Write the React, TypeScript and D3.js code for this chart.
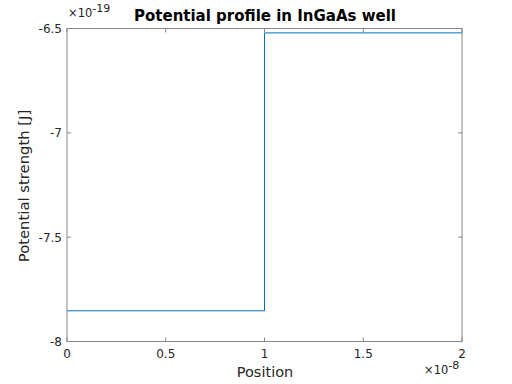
import React from "react";
import * as d3 from "d3";

const positions = [0, 1e-8, 1e-8, 2e-8];
const potentials = [-7.853e-19, -7.853e-19, -6.521e-19, -6.521e-19];
const xTicks = [0, 0.5e-8, 1e-8, 1.5e-8, 2e-8];
const xTickLabels = ["0", "0.5", "1", "1.5", "2"];
const yTicks = [-8e-19, -7.5e-19, -7e-19, -6.5e-19];
const yTickLabels = ["-8", "-7.5", "-7", "-6.5"];

export default function App() {
  const W = 512, H = 384;
  const L = 67, R = 462, T = 28.5, B = 341.5;
  const x = d3.scaleLinear().domain([0, 2e-8]).range([L, R]);
  const y = d3.scaleLinear().domain([-8e-19, -6.5e-19]).range([B, T]);
  const line = d3.line<number>().x((d, i) => x(positions[i])).y((d) => y(d));
  const axisColor = "#868686";
  const font = "DejaVu Sans, sans-serif";
  return (
    <svg width={W} height={H} style={{ position: "absolute", left: 0, top: 0 }} fontFamily={font}>
      <rect x={0} y={0} width={W} height={H} fill="#fff" />
      <path d={line(potentials) || ""} fill="none" stroke="#0072BD" strokeWidth={1} />
      <rect x={L} y={T} width={R - L} height={B - T} fill="none" stroke={axisColor} strokeWidth={1} />
      {xTicks.map((t, i) => (
        <g key={"x" + i}>
          <line x1={x(t)} x2={x(t)} y1={B} y2={B - 4} stroke={axisColor} />
          <line x1={x(t)} x2={x(t)} y1={T} y2={T + 4} stroke={axisColor} />
          <text x={x(t)} y={358} textAnchor="middle" fontSize={12} fill="#262626">{xTickLabels[i]}</text>
        </g>
      ))}
      {yTicks.map((t, i) => (
        <g key={"y" + i}>
          <line x1={L} x2={L + 4} y1={y(t)} y2={y(t)} stroke={axisColor} />
          <line x1={R} x2={R - 4} y1={y(t)} y2={y(t)} stroke={axisColor} />
          <text x={L - 5} y={y(t) + 4.5} textAnchor="end" fontSize={12} fill="#262626">{yTickLabels[i]}</text>
        </g>
      ))}
      <text x={68} y={17} fontSize={11.5} fill="#262626">
        ×10<tspan dy={-5} fontSize={11}>-19</tspan>
      </text>
      <text x={424} y={374} fontSize={11.5} fill="#262626">
        ×10<tspan dy={-5} fontSize={11}>-8</tspan>
      </text>
      <text x={265} y={20.5} textAnchor="middle" fontSize={15} fontWeight="bold" fill="#000">
        Potential profile in InGaAs well
      </text>
      <text x={265} y={377} textAnchor="middle" fontSize={14.5} fill="#262626">Position</text>
      <text transform={`translate(29,186) rotate(-90)`} textAnchor="middle" fontSize={14.8} fill="#262626">
        Potential strength [J]
      </text>
    </svg>
  );
}
